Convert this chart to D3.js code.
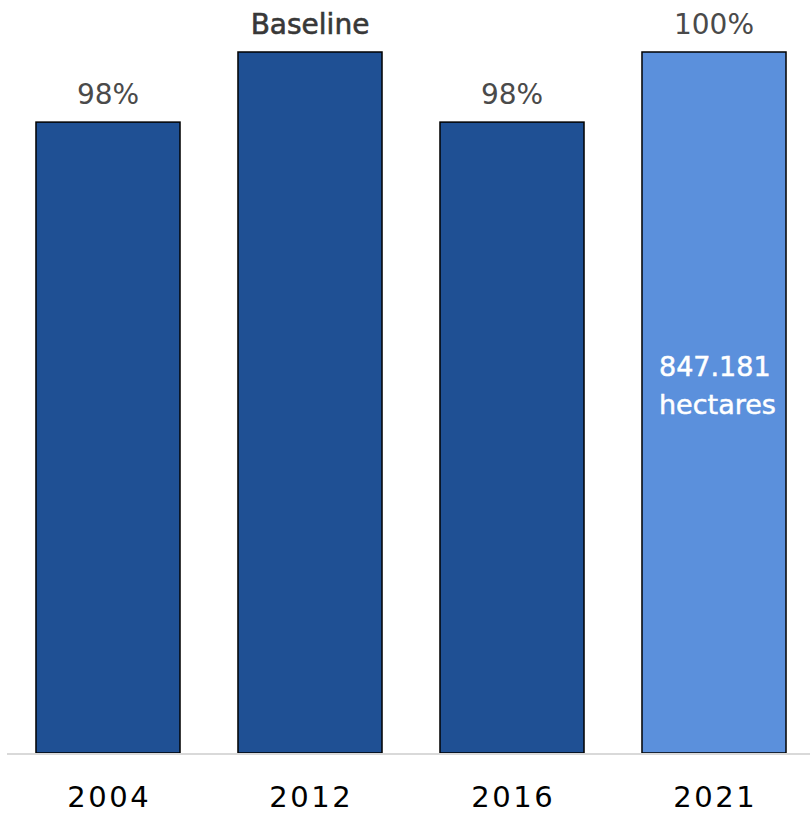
<!DOCTYPE html>
<html>
<head>
<meta charset="utf-8">
<script src="https://cdn.jsdelivr.net/npm/d3@7"></script>
<style>
  html, body { margin: 0; padding: 0; background: #ffffff; }
  svg { display: block; font-family: "DejaVu Sans", sans-serif; }
</style>
</head>
<body>
<svg id="chart" width="810" height="815"></svg>
<script>
// Share of area relative to the 2012 baseline
const years = ["2004", "2012", "2016", "2021"];
const shares = [98, 100, 98, 100];
const topLabels = ["98%", "Baseline", "98%", "100%"];
const insideLabel = ["847.181", "hectares"];
const barColors = ["#1f5094", "#1f5094", "#1f5094", "#5b90dc"];

const svg = d3.select("#chart");

const x = d3.scaleBand()
  .domain(years)
  .range([7, 815])
  .paddingInner(0.287)
  .paddingOuter(0.1435);

const y = d3.scaleLinear()
  .domain([80, 100])
  .range([753, 52]);

// bars
svg.append("g").selectAll("rect")
  .data(years)
  .join("rect")
  .attr("x", d => x(d))
  .attr("y", (d, i) => y(shares[i]))
  .attr("width", x.bandwidth())
  .attr("height", (d, i) => y.range()[0] - y(shares[i]))
  .attr("fill", (d, i) => barColors[i])
  .attr("stroke", "#000")
  .attr("stroke-width", 1.5);

// baseline axis
const xAxis = d3.axisBottom(x).tickSize(0).tickPadding(0);
const gx = svg.append("g")
  .attr("transform", `translate(0,${y.range()[0] + 1})`)
  .call(xAxis);
gx.select(".domain").attr("d", "M7,0H810").attr("stroke", "#d9d9d9").attr("stroke-width", 2);
gx.selectAll(".tick text")
  .attr("dy", null)
  .attr("y", 53)
  .attr("dx", 1.25)
  .attr("font-size", 29)
  .attr("letter-spacing", 2.5)
  .attr("font-family", "'DejaVu Sans', sans-serif")
  .attr("fill", "#000");

// value labels above bars
svg.append("g").selectAll("text")
  .data(years)
  .join("text")
  .attr("x", d => x(d) + x.bandwidth() / 2)
  .attr("y", (d, i) => y(shares[i]) - 18)
  .attr("text-anchor", "middle")
  .attr("font-size", 28)
  .attr("font-weight", "normal")
  .attr("fill", (d, i) => topLabels[i] === "Baseline" ? "#383838" : "#4a4a4a")
  .attr("stroke", (d, i) => topLabels[i] === "Baseline" ? "#383838" : "none")
  .attr("stroke-width", 0.6)
  .text((d, i) => topLabels[i]);

// annotation inside the 2021 bar
const ann = svg.append("text")
  .attr("x", x("2021") + 17)
  .attr("y", 376)
  .attr("font-size", 27)
  .attr("fill", "#ffffff")
  .attr("stroke", "#ffffff")
  .attr("stroke-width", 0.5);
ann.selectAll("tspan")
  .data(insideLabel)
  .join("tspan")
  .attr("x", x("2021") + 17)
  .attr("dy", (d, i) => i === 0 ? 0 : 38)
  .text(d => d);
</script>
</body>
</html>
